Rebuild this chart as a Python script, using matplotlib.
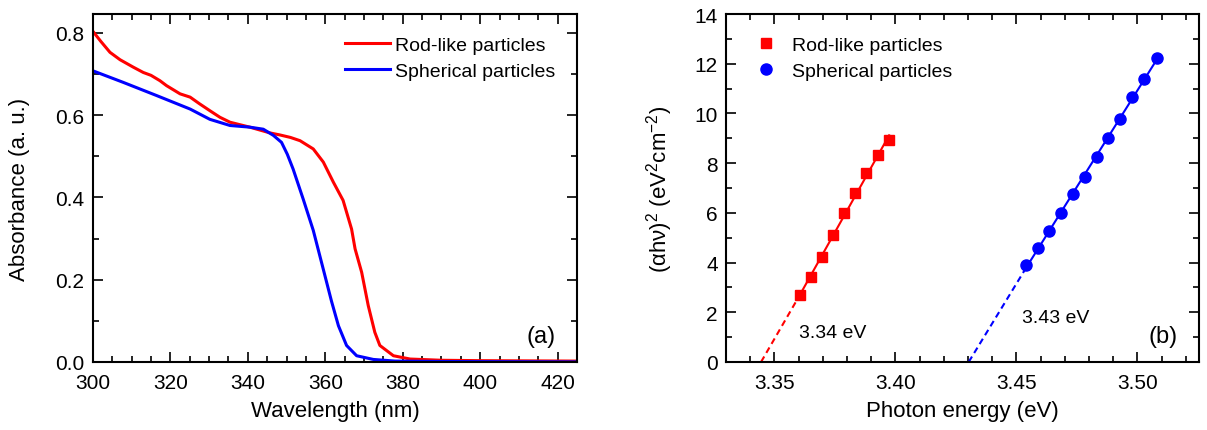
import numpy as np
import matplotlib
matplotlib.use("Agg")
import matplotlib.pyplot as plt
from matplotlib.ticker import MultipleLocator, FormatStrFormatter

plt.rcParams["font.family"] = ["Liberation Sans", "DejaVu Sans"]
plt.rcParams["mathtext.default"] = "regular"

# ==============================
# Data - panel (a): absorbance spectra
# ==============================
rod_wl = [300, 302, 304.4, 307, 310.4, 313, 315, 317.3, 319, 322.5, 325.1, 327.5,
          330.2, 332.8, 335.4, 340.5, 345.7, 348.3, 351, 353.5, 356.9, 359.5,
          362.1, 364.6, 366.8, 367.7, 369.4, 371.1, 372.8, 374.1, 377.6, 381.9,
          390, 400, 425]
rod_abs = [0.804, 0.78, 0.753, 0.735, 0.717, 0.704, 0.697, 0.684, 0.672, 0.652,
           0.644, 0.628, 0.611, 0.595, 0.583, 0.571, 0.557, 0.552, 0.546, 0.538,
           0.518, 0.486, 0.437, 0.393, 0.323, 0.275, 0.218, 0.137, 0.072, 0.040,
           0.015, 0.007, 0.004, 0.003, 0.002]

sph_wl = [300, 307.8, 316.4, 325.1, 330.2, 335.4, 340.5, 344, 346.6, 348.7, 350.2,
          351.7, 354.3, 356.9, 359.5, 361.6, 363.4, 365.5, 368.1, 372.4, 378, 390, 425]
sph_abs = [0.708, 0.680, 0.648, 0.615, 0.590, 0.575, 0.571, 0.566, 0.551, 0.534,
           0.505, 0.469, 0.396, 0.320, 0.225, 0.148, 0.088, 0.040, 0.015, 0.006,
           0.002, 0.001, 0.0]

# ==============================
# Data - panel (b): Tauc plot
# ==============================
rod_E = [3.3605, 3.3652, 3.3698, 3.3742, 3.3789, 3.3833, 3.3880, 3.3927, 3.3974]
rod_tauc = [2.71, 3.41, 4.23, 5.09, 5.98, 6.81, 7.61, 8.31, 8.92]

sph_E = [3.4541, 3.4588, 3.4636, 3.4685, 3.4734, 3.4782, 3.4831, 3.4880,
         3.4930, 3.4978, 3.5028, 3.5079]
sph_tauc = [3.91, 4.60, 5.28, 5.98, 6.77, 7.45, 8.24, 9.02, 9.78, 10.65, 11.39, 12.25]

rod_gap = 3.3445
sph_gap = 3.4303

RED = "#ff0000"
BLUE = "#0000ff"

fig = plt.figure(figsize=(12.07, 4.31), dpi=100)
ax1 = fig.add_axes([0.077, 0.158, 0.401, 0.807])
ax2 = fig.add_axes([0.6015, 0.158, 0.392, 0.807])

# ==============================
# Panel (a)
# ==============================
ax1.plot(rod_wl, rod_abs, color=RED, lw=2.2, label="Rod-like particles")
ax1.plot(sph_wl, sph_abs, color=BLUE, lw=2.2, label="Spherical particles")
ax1.set_xlim(300, 425)
ax1.set_ylim(0, 0.846)
ax1.xaxis.set_major_locator(MultipleLocator(20))
ax1.xaxis.set_minor_locator(MultipleLocator(5))
ax1.yaxis.set_major_locator(MultipleLocator(0.2))
ax1.yaxis.set_minor_locator(MultipleLocator(0.1))
ax1.yaxis.set_major_formatter(FormatStrFormatter("%.1f"))
ax1.set_xlabel("Wavelength (nm)", fontsize=16, labelpad=6)
ax1.set_ylabel("Absorbance (a. u.)", fontsize=16, labelpad=18)
ax1.legend(loc="upper right", fontsize=14, frameon=False, handlelength=2.3,
           handletextpad=0.3, labelspacing=0.45, borderaxespad=0.2,
           bbox_to_anchor=(0.98, 0.97))
ax1.text(0.955, 0.075, "(a)", transform=ax1.transAxes, fontsize=17,
         ha="right", va="center")

# ==============================
# Panel (b)
# ==============================
ax2.plot(rod_E, rod_tauc, "s", color=RED, ms=7.5, label="Rod-like particles")
ax2.plot(sph_E, sph_tauc, "o", color=BLUE, ms=8, label="Spherical particles")

# linear fits through the data, extrapolated (dashed) to zero
for E, T, gap, c in [(rod_E, rod_tauc, rod_gap, RED), (sph_E, sph_tauc, sph_gap, BLUE)]:
    slope, icpt = np.polyfit(E, T, 1)
    ax2.plot([E[0], E[-1]], [slope * E[0] + icpt, slope * E[-1] + icpt],
             color=c, lw=1.5)
    ax2.plot([gap, E[0]], [0, slope * E[0] + icpt], color=c, lw=1.5, ls=(0, (3, 2)))

ax2.set_xlim(3.33, 3.5255)
ax2.set_ylim(0, 14)
ax2.xaxis.set_major_locator(MultipleLocator(0.05))
ax2.xaxis.set_minor_locator(MultipleLocator(0.01))
ax2.yaxis.set_major_locator(MultipleLocator(2))
ax2.yaxis.set_minor_locator(MultipleLocator(1))
ax2.xaxis.set_major_formatter(FormatStrFormatter("%.2f"))
ax2.set_xlabel("Photon energy (eV)", fontsize=16, labelpad=6)
ax2.set_ylabel("(\u03b1h\u03bd)$^2$ (eV$^2$cm$^{-2}$)", fontsize=16, labelpad=14)
ax2.legend(loc="upper left", fontsize=14, frameon=False, handlelength=1.0,
           handletextpad=0.8, labelspacing=0.45, borderaxespad=0.2,
           bbox_to_anchor=(0.04, 0.97))
ax2.text(3.3602, 1.2, "3.34 eV", fontsize=14, va="center")
ax2.text(3.4522, 1.8, "3.43 eV", fontsize=14, va="center")
ax2.text(0.955, 0.075, "(b)", transform=ax2.transAxes, fontsize=17,
         ha="right", va="center")

for ax in (ax1, ax2):
    ax.tick_params(which="both", direction="in", top=True, right=True,
                   labelsize=15, width=1.2)
    ax.tick_params(which="major", length=7)
    ax.tick_params(which="minor", length=4)
    ax.tick_params(axis="x", pad=8)
    ax.tick_params(axis="y", pad=6)
    for s in ax.spines.values():
        s.set_linewidth(1.5)

fig.savefig("out.png", dpi=100)
